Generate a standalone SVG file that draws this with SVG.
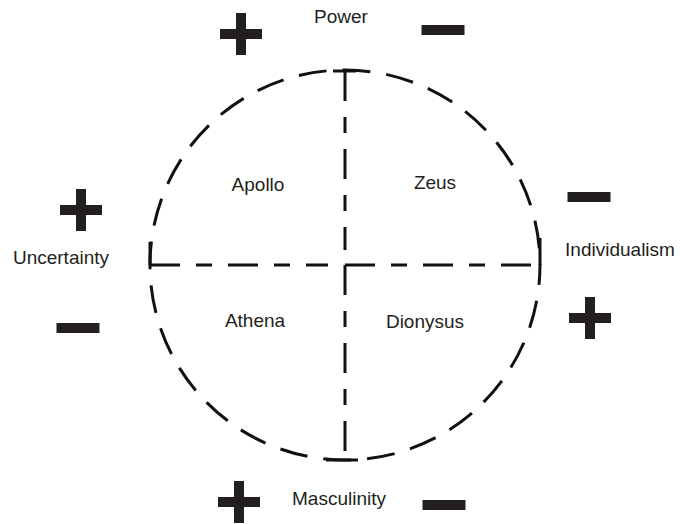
<svg xmlns="http://www.w3.org/2000/svg" width="680" height="524" viewBox="0 0 680 524">
<style>
.lbl{font-family:"Liberation Sans",Arial,sans-serif;font-size:19px;fill:#231f20}
.ln{stroke:#111;stroke-width:3;fill:none}
.d{stroke-dasharray:30 16 16 16}
.sign{fill:#231f20}
</style>
<defs>
<g id="plus"><rect x="-21" y="-5" width="42" height="10"/><rect x="-5" y="-21" width="10" height="42"/></g>
<rect id="minus" x="-21.5" y="-5" width="43" height="10"/>
</defs>
<rect width="680" height="524" fill="#fff"/>
<g id="connectors">
<circle class="ln" cx="345" cy="265" r="195" stroke-dasharray="28 16" stroke-dashoffset="8"/>
<path class="ln" d="M150 265 L150 242"/>
<path class="ln" d="M540 265 L540 238"/>
<path class="ln d" d="M345 71 L345 250"/>
<path class="ln d" d="M345 265 L345 460"/>
<path class="ln d" d="M150 265 L328 265"/>
<path class="ln d" d="M345 265 L540 265"/>
<path class="ln" d="M333 71 L356 71"/>
<path class="ln" d="M326 460 L358 460"/>
</g>
<g id="power"><text class="lbl" x="341" y="23" text-anchor="middle">Power</text>
<use class="sign" href="#plus" x="241" y="34"/><use class="sign" href="#minus" x="443" y="30"/></g>
<g id="masculinity"><text class="lbl" x="339" y="505" text-anchor="middle">Masculinity</text>
<use class="sign" href="#plus" x="239" y="502"/><use class="sign" href="#minus" x="444" y="505"/></g>
<g id="uncertainty"><text class="lbl" x="61" y="264" text-anchor="middle">Uncertainty</text>
<use class="sign" href="#plus" x="81" y="210"/><use class="sign" href="#minus" x="78" y="328"/></g>
<g id="individualism"><text class="lbl" x="620" y="256" text-anchor="middle">Individualism</text>
<use class="sign" href="#minus" x="589" y="197"/><use class="sign" href="#plus" x="590" y="318"/></g>
<g id="apollo"><text class="lbl" x="258" y="191" text-anchor="middle">Apollo</text></g>
<g id="zeus"><text class="lbl" x="435" y="189" text-anchor="middle">Zeus</text></g>
<g id="athena"><text class="lbl" x="255" y="327" text-anchor="middle">Athena</text></g>
<g id="dionysus"><text class="lbl" x="425" y="328" text-anchor="middle">Dionysus</text></g>
</svg>
